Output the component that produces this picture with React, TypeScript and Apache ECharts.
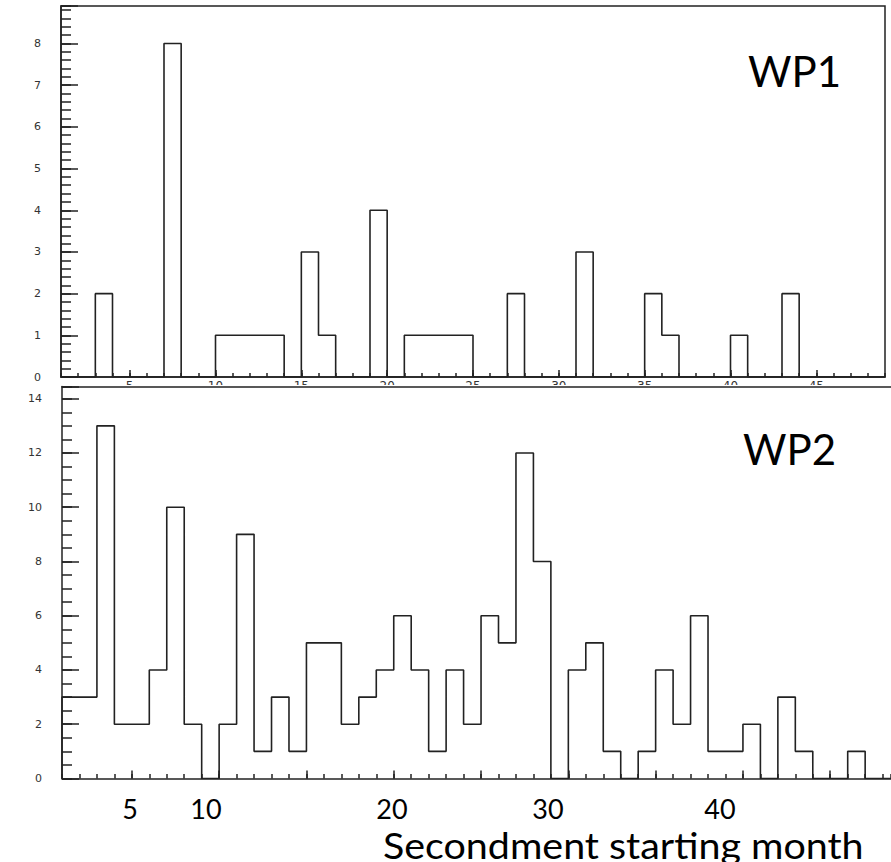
import React, { useEffect, useRef } from "react";
import * as echarts from "echarts";

// ---- data ----
const FIRST_MONTH = 1;
// WP1 counts per starting month (months 1..48)
const wp1Counts = [
  0, 0, 2, 0, 0, 0, 8, 0, 0, 1,
  1, 1, 1, 0, 3, 1, 0, 0, 4, 0,
  1, 1, 1, 1, 0, 0, 2, 0, 0, 0,
  3, 0, 0, 0, 2, 1, 0, 0, 0, 1,
  0, 0, 2, 0, 0, 0, 0, 0,
];
// WP2 counts per starting month (months 1..48)
const wp2Counts = [
  3, 3, 13, 2, 2, 4, 10, 2, 0, 2,
  9, 1, 3, 1, 5, 5, 2, 3, 4, 6,
  4, 1, 4, 2, 6, 5, 12, 8, 0, 4,
  5, 1, 0, 1, 4, 2, 6, 1, 1, 2,
  0, 3, 1, 0, 0, 1, 0, 0,
];
const majorMonthTicks = [5, 10, 15, 20, 25, 30, 35, 40, 45];
const monthTickLabels = ["5", "10", "20", "30", "40"];
const monthTickLabelX = [130, 206, 392, 548, 720];
const wp1Title = "WP1";
const wp2Title = "WP2";
const xTitle = "Secondment starting month";

// ---- helpers ----
const toStep = (counts: number[], start: number) => {
  const pts: number[][] = [[start, 0]];
  counts.forEach((c, i) => pts.push([start + i, c]));
  pts.push([start + counts.length, counts[counts.length - 1]]);
  pts.push([start + counts.length, 0]);
  return pts;
};

const INK = "#222";
const lineStyle = { color: INK, width: 1.5 };
const rootFont = { fontFamily: "DejaVu Sans", fontSize: 11, color: "#333" };
const intOnly = (v: number) => (Math.abs(v - Math.round(v)) < 1e-6 ? String(Math.round(v)) : "");

const topOption: any = {
  animation: false,
  grid: {
    left: 61, right: 6, top: 6, bottom: 8,
    outerBoundsMode: "none", containLabel: false,
    show: true, borderColor: INK, borderWidth: 1.5, backgroundColor: "transparent",
  },
  xAxis: [
    {
      type: "value", min: 1, max: 49, interval: 1, position: "bottom",
      axisLine: { show: true, onZero: false, lineStyle },
      axisTick: { show: true, inside: true, length: 4, lineStyle },
      axisLabel: { show: false },
      splitLine: { show: false },
    },
    {
      type: "value", min: 1, max: 49, position: "bottom",
      axisLine: { show: false, onZero: false },
      axisTick: { show: true, inside: true, length: 7, lineStyle, customValues: majorMonthTicks },
      axisLabel: { show: true, margin: 3, customValues: majorMonthTicks, ...rootFont, fontSize: 12 },
      splitLine: { show: false },
    },
  ],
  yAxis: [
    {
      type: "value", min: 0, max: 8.9, interval: 1,
      axisLine: { show: true, onZero: false, lineStyle },
      axisTick: { show: true, inside: true, length: 17, lineStyle },
      axisLabel: { show: true, margin: 20, formatter: intOnly, ...rootFont },
      splitLine: { show: false },
    },
    {
      type: "value", min: 0, max: 8.9, interval: 0.2, position: "left",
      axisLine: { show: false, onZero: false },
      axisTick: { show: true, inside: true, length: 10, lineStyle },
      axisLabel: { show: false },
      splitLine: { show: false },
    },
  ],
  series: [
    {
      type: "line", step: "end", xAxisIndex: 0, yAxisIndex: 0,
      data: toStep(wp1Counts, FIRST_MONTH), symbol: "none",
      lineStyle: { color: INK, width: 1.6 },
    },
  ],
  graphic: [
    {
      type: "text", left: 748, top: 50,
      style: { text: wp1Title, font: "42px Lato", fill: "#000" },
    },
  ],
};

const botOption: any = {
  animation: false,
  grid: {
    left: 62, right: 0, top: 1.5, bottom: 83.5, show: false,
    outerBoundsMode: "none", containLabel: false,
  },
  xAxis: [
    {
      type: "value", min: 1, max: 48.48, interval: 1, position: "bottom",
      axisLine: { show: true, onZero: false, lineStyle },
      axisTick: { show: true, inside: true, length: 4.5, lineStyle },
      axisLabel: { show: false },
      splitLine: { show: false },
    },
    {
      type: "value", min: 1, max: 48.48, position: "bottom",
      axisLine: { show: false, onZero: false },
      axisTick: { show: true, inside: true, length: 8, lineStyle, customValues: majorMonthTicks },
      axisLabel: { show: false },
      splitLine: { show: false },
    },
    {
      type: "value", min: 1, max: 48.48, position: "top",
      axisLine: { show: true, onZero: false, lineStyle },
      axisTick: { show: false },
      axisLabel: { show: false },
      splitLine: { show: false },
    },
  ],
  yAxis: [
    {
      type: "value", min: 0, max: 14.45, interval: 2,
      axisLine: { show: true, onZero: false, lineStyle },
      axisTick: { show: true, inside: true, length: 17, lineStyle },
      axisLabel: { show: true, margin: 20, formatter: intOnly, ...rootFont },
      splitLine: { show: false },
    },
    {
      type: "value", min: 0, max: 14.45, interval: 0.5, position: "left",
      axisLine: { show: false, onZero: false },
      axisTick: { show: true, inside: true, length: 10, lineStyle },
      axisLabel: { show: false },
      splitLine: { show: false },
    },
  ],
  series: [
    {
      type: "line", step: "end", xAxisIndex: 0, yAxisIndex: 0,
      data: toStep(wp2Counts, FIRST_MONTH), symbol: "none",
      lineStyle: { color: INK, width: 1.6 },
    },
  ],
  graphic: [
    {
      type: "text", left: 743, top: 43,
      style: { text: wp2Title, font: "42px Lato", fill: "#000" },
    },
    ...monthTickLabels.map((t, i) => ({
      type: "text", x: monthTickLabelX[i], y: 423,
      style: { text: t, font: "27px Lato", lineHeight: 20, fill: "#000", align: "center", verticalAlign: "middle" },
    })),
    {
      type: "text", x: 383, y: 459, scaleX: 1.065,
      style: { text: xTitle, font: "37px Lato", lineHeight: 28, fill: "#000", align: "left", verticalAlign: "middle" },
    },
  ],
};

export default function App() {
  const topRef = useRef<HTMLDivElement>(null);
  const botRef = useRef<HTMLDivElement>(null);
  useEffect(() => {
    const top = echarts.init(topRef.current!, null, { renderer: "svg" });
    const bot = echarts.init(botRef.current!, null, { renderer: "svg" });
    top.setOption(topOption);
    bot.setOption(botOption);
    return () => {
      top.dispose();
      bot.dispose();
    };
  }, []);
  return (
    <div style={{ position: "fixed", left: 0, top: 0, width: 891, height: 862, background: "#fff", overflow: "hidden" }}>
      <div ref={topRef} style={{ position: "absolute", left: 0, top: 0, width: 891, height: 385, overflow: "hidden" }} />
      <div ref={botRef} style={{ position: "absolute", left: 0, top: 385, width: 891, height: 477, background: "#fff" }} />
    </div>
  );
}
